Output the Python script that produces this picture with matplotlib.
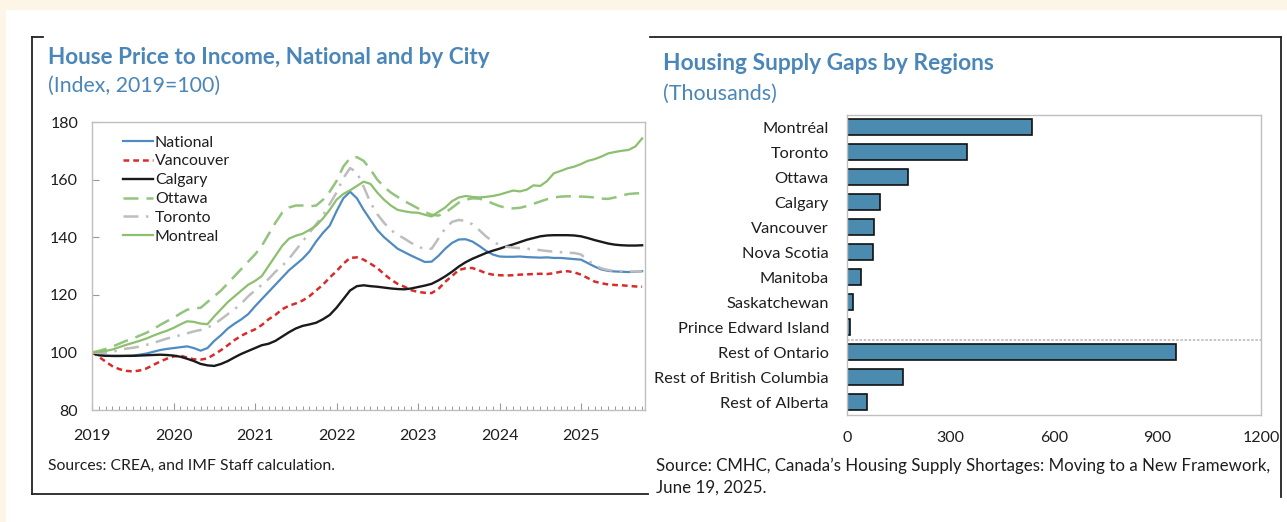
import numpy as np
import matplotlib
matplotlib.use("Agg")
import matplotlib.pyplot as plt
from matplotlib.lines import Line2D
from matplotlib.patches import Rectangle

plt.rcParams['font.family'] = ['Lato', 'DejaVu Sans']

# ---- data: house price to income, monthly Jan 2019 - Oct 2025 ----
national = [100, 99.3, 98.9, 98.7, 98.7, 98.8, 98.9, 99.2, 99.6, 100.2, 100.8, 101.2,
            101.5, 101.8, 102.1, 101.5, 100.6, 101.5, 104, 106, 108.3, 110, 111.5, 113.3,
            116, 118.5, 121, 123.5, 126, 128.5, 130.5, 132.5, 135, 138.5, 141.5, 144,
            149, 153.5, 155.8, 153.5, 149.5, 146, 142.5, 140, 138, 136, 134.8, 133.6,
            132.5, 131.4, 131.5, 133.5, 136, 138, 139.2, 139.3, 138.5, 137, 135.3, 134,
            133.3, 133.2, 133.2, 133.3, 133.1, 133, 132.9, 133, 132.8, 132.8, 132.6, 132.4,
            132.2, 131, 129.8, 128.8, 128.3, 128.1, 128, 127.9, 128, 128.2]
vancouver = [100, 98.5, 96.8, 95.2, 94.2, 93.6, 93.4, 93.7, 94.4, 95.6, 96.8, 97.8,
             98.6, 98.9, 98.2, 97.6, 97.5, 97.9, 99.3, 100.8, 102.5, 104.3, 105.8, 107,
             108, 109.5, 111.5, 113, 115, 116.2, 117, 118, 119.5, 121.5, 123.5, 126,
             128.2, 130.8, 132.8, 133, 132.2, 130.8, 129.3, 127.2, 125.3, 123.8, 122.8, 121.6,
             121, 120.7, 120.6, 122, 124.5, 126.5, 128.6, 129.2, 129.3, 128.5, 127.5, 127,
             126.8, 126.7, 126.8, 127, 127.1, 127.2, 127.3, 127.2, 127.5, 128, 128.2, 127.8,
             127, 125.8, 124.6, 124, 123.6, 123.4, 123.3, 123.1, 122.9, 122.8]
calgary = [100, 99, 98.8, 98.8, 98.8, 98.8, 98.8, 98.9, 99, 99.1, 99.2, 99.1,
           98.9, 98.5, 97.8, 97, 96, 95.5, 95.3, 96, 97, 98.3, 99.5, 100.5,
           101.5, 102.5, 103, 104, 105.5, 107, 108.3, 109.2, 109.7, 110.3, 111.5, 113,
           115.5, 118.5, 121.5, 123, 123.3, 123, 122.8, 122.5, 122.2, 122, 121.9, 122.2,
           122.7, 123.2, 123.8, 125, 126.4, 128, 129.8, 131.3, 132.5, 133.5, 134.5, 135.3,
           136, 136.8, 137.5, 138.3, 139.1, 139.7, 140.3, 140.6, 140.7, 140.7, 140.7, 140.6,
           140.3, 139.7, 139, 138.4, 137.8, 137.4, 137.2, 137.1, 137.1, 137.2]
ottawa = [100, 100.5, 101.2, 102, 103, 104, 104.8, 105.8, 106.8, 108, 109.5, 110.8,
          112, 113.5, 114.8, 115.3, 115.5, 117.5, 119.5, 121.5, 124, 126.5, 129, 131.5,
          134, 137, 141, 145, 148.5, 150.3, 151, 151, 150.7, 151, 153, 155.8,
          159.5, 164.5, 167.5, 167.8, 166.5, 163.5, 160, 157.5, 155.5, 154, 152.5, 151.3,
          150, 148.8, 147.8, 147.5, 148.5, 150.2, 152, 153, 153.5, 153.4, 152.8, 151.7,
          150.8, 150.2, 150, 150.2, 150.8, 151.6, 152.4, 153.2, 153.8, 154.1, 154.2, 154.2,
          154.1, 154, 153.8, 153.4, 153.3, 153.8, 154.5, 155, 155.2, 155.3]
toronto = [100, 99.8, 99.8, 100.2, 100.8, 101.3, 101.6, 102, 102.6, 103.3, 104, 104.8,
           105.4, 106, 106.6, 107.3, 107.8, 108.6, 109.8, 111.5, 113.3, 115, 117, 119.5,
           121.5, 123.5, 125.5, 128, 130, 132.5, 135.5, 138.5, 141.5, 144.5, 147.5, 151.5,
           155.5, 160.5, 164, 162.5, 157.5, 152, 148, 145, 142.5, 140.8, 139.5, 138,
           136.8, 135.8, 136, 139.5, 143, 145.3, 146, 145.6, 144.5, 142.5, 140.3, 138.5,
           137.3, 136.7, 136.4, 136.2, 136, 135.8, 135.5, 135.2, 135, 134.8, 134.6, 134.5,
           134, 132, 130.3, 129.2, 128.6, 128.3, 128.2, 128.1, 128.1, 128.1]
montreal = [100, 100.2, 100.5, 101, 101.8, 102.6, 103.3, 104, 104.8, 105.8, 106.7, 107.5,
            108.5, 109.7, 110.8, 110.6, 110, 109.8, 112.5, 115, 117.5, 119.5, 121.5, 123.5,
            124.8, 126.5, 130, 133.5, 137, 139.5, 140.5, 141.2, 142.5, 144, 146.5, 149.5,
            153, 155, 156.3, 157.8, 159.3, 158.5, 155.5, 153, 151, 149.5, 149, 148.6,
            148.5, 147.8, 147.2, 148.8, 150.3, 152.5, 153.8, 154.3, 154, 153.8, 154, 154.3,
            154.8, 155.5, 156.2, 155.9, 156.5, 158, 157.8, 159.5, 162.2, 163, 163.9, 164.5,
            165.4, 166.5, 167.1, 168, 169.1, 169.6, 170, 170.3, 171.5, 174.3]
years = list(range(2019, 2026))

# ---- data: housing supply gaps (thousands) ----
regions = ['Montréal', 'Toronto', 'Ottawa', 'Calgary', 'Vancouver', 'Nova Scotia',
           'Manitoba', 'Saskatchewan', 'Prince Edward Island', 'Rest of Ontario',
           'Rest of British Columbia', 'Rest of Alberta']
gaps = [536, 348, 176, 97, 79, 75, 40, 18, 8, 953, 163, 57]
gap_ticks = [0, 300, 600, 900, 1200]

W, H = 1287, 522
fig = plt.figure(figsize=(W / 100, H / 100), dpi=100)
fig.patch.set_facecolor('#FDF5E6')

def fx(x):
    return x / W

def fy(y):
    return 1 - y / H

# white panel
fig.add_artist(Rectangle((fx(6), 0), 1 - fx(6), fy(10), transform=fig.transFigure,
                         facecolor='white', edgecolor='none', zorder=0))

# panel brackets
frame_kw = dict(transform=fig.transFigure, color='#222222', lw=1.3)
fig.add_artist(Line2D([fx(32), fx(32)], [fy(37), fy(494)], **frame_kw))
fig.add_artist(Line2D([fx(32), fx(43)], [fy(37), fy(37)], **frame_kw))
fig.add_artist(Line2D([fx(32), fx(648)], [fy(494), fy(494)], **frame_kw))
fig.add_artist(Line2D([fx(650), fx(1281)], [fy(37), fy(37)], **frame_kw))
fig.add_artist(Line2D([fx(1281), fx(1281)], [fy(37), fy(497)], **frame_kw))

title_c = '#4A86B8'
text_c = '#1E1E1E'

# ---------------- left: line chart ----------------
ax1 = fig.add_axes([fx(92), fy(410), fx(645 - 92), (410 - 122) / H])
t = 2019 + np.arange(len(national)) / 12

ax1.plot(t, national, color='#4F8BC1', lw=1.6, label='National')
ax1.plot(t, vancouver, color='#D92B2B', lw=1.8, ls=(0, (2.3, 1.6)), label='Vancouver')
ax1.plot(t, calgary, color='#1A1A1A', lw=1.7, label='Calgary')
ax1.plot(t, ottawa, color='#93C47D', lw=1.8, ls=(0, (6, 3.2)), label='Ottawa')
ax1.plot(t, toronto, color='#BDBDBD', lw=1.8, ls=(0, (6, 3, 1, 3)), label='Toronto')
ax1.plot(t, montreal, color='#8CBF6E', lw=1.6, label='Montreal')

ax1.set_xlim(2019, 2025.785)
ax1.set_ylim(80, 180)
ax1.set_yticks(range(80, 181, 20))
ax1.set_xticks(years)
ax1.set_xticks(2019 + np.arange(0, 82) / 12, minor=True)
ax1.set_xticklabels([str(y) for y in years])
ax1.tick_params(axis='x', which='major', direction='in', length=5, width=0.8,
                color='#999999', pad=14, labelsize=11.5, labelcolor=text_c)
ax1.tick_params(axis='x', which='minor', direction='in', length=3, width=0.7, color='#999999')
ax1.tick_params(axis='y', direction='in', length=5, width=0.8, color='#999999',
                pad=10, labelsize=11.5, labelcolor=text_c)
for s in ax1.spines.values():
    s.set_color('#BFBFBF')
    s.set_linewidth(1.0)

leg = ax1.legend(loc='upper left', bbox_to_anchor=(0.045, 0.975), frameon=False,
                 fontsize=11.4, handlelength=1.9, handletextpad=0.1,
                 labelspacing=0.3, borderaxespad=0)
for txt in leg.get_texts():
    txt.set_color(text_c)

fig.text(fx(48), fy(57), 'House Price to Income, National and by City', color=title_c,
         fontsize=16.2, fontweight='bold', va='center', ha='left')
fig.text(fx(48), fy(86), '(Index, 2019=100)', color=title_c, fontsize=15.3,
         va='center', ha='left')
fig.text(fx(48), fy(466), 'Sources: CREA, and IMF Staff calculation.', color=text_c,
         fontsize=11.3, va='center', ha='left')

# ---------------- right: bar chart ----------------
ax2 = fig.add_axes([fx(847), fy(414.5), fx(1261 - 847), (414.5 - 114.7) / H])
ypos = np.arange(len(regions))
ax2.barh(ypos, gaps, height=0.66, color='#4B8BAF', edgecolor='#111111', linewidth=1.2)
ax2.set_ylim(len(regions) - 0.5, -0.5)
ax2.set_xlim(0, 1200)
ax2.set_xticks(gap_ticks)
ax2.set_yticks(ypos)
ax2.set_yticklabels(regions)
ax2.tick_params(axis='both', length=0, labelsize=11.8, labelcolor=text_c)
ax2.tick_params(axis='x', pad=12, labelsize=11.5)
ax2.tick_params(axis='y', pad=13)
ax2.axhline(8.5, color='#BBBBBB', lw=1.2, ls=(0, (1.5, 1)))
for s in ax2.spines.values():
    s.set_color('#BFBFBF')
    s.set_linewidth(1.0)

fig.text(fx(663), fy(64), 'Housing Supply Gaps by Regions', color=title_c,
         fontsize=16.4, fontweight='bold', va='center', ha='left')
fig.text(fx(663), fy(94), '(Thousands)', color=title_c, fontsize=15.5,
         va='center', ha='left')
fig.text(fx(656), fy(466),
         'Source: CMHC, Canada\u2019s Housing Supply Shortages: Moving to a New Framework,',
         color=text_c, fontsize=12.2, va='center', ha='left')
fig.text(fx(656), fy(488), 'June 19, 2025.', color=text_c, fontsize=12.2,
         va='center', ha='left')

fig.savefig('out.png', dpi=100, facecolor=fig.get_facecolor())
